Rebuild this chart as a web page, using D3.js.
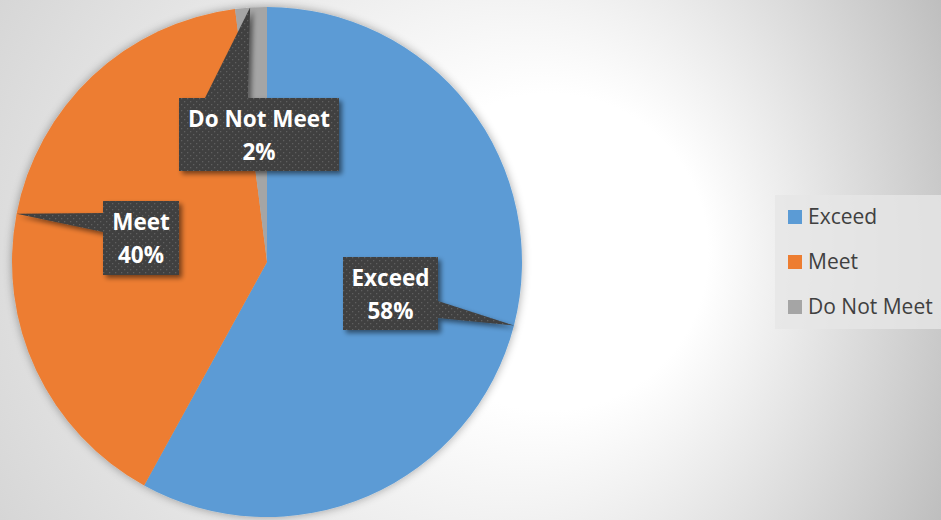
<!DOCTYPE html>
<html>
<head>
<meta charset="utf-8">
<script src="https://cdn.jsdelivr.net/npm/d3@7"></script>
<style>
  html, body { margin: 0; padding: 0; background: #fff; }
  svg { display: block; }
</style>
</head>
<body>
<div class="chart"></div>
<script>
var svgWidth = 941;
var svgHeight = 520;

// data
var categories = ["Exceed", "Meet", "Do Not Meet"];
var values = [58, 40, 2];
var colors = ["#5b9bd5", "#ed7d31", "#a5a5a5"];

// pie geometry
var cx = 267, cy = 262, radius = 255;

// callout layout: box offset from pie centre, size, pointer side and base span, tip angle (deg)
var callouts = {
    "Exceed":      { dx: 76,  dy: -5,   w: 95,  h: 73, side: "right", base: [44, 61], tipAngle: 104.4 },
    "Meet":        { dx: -164, dy: -61, w: 76,  h: 74, side: "left",  base: [12, 31], tipAngle: 280.9 },
    "Do Not Meet": { dx: -88, dy: -164, w: 160, h: 73, side: "top",   base: [26, 69], tipAngle: 356.2 }
};

var svg = d3.select(".chart")
    .append("svg")
    .attr("width", svgWidth)
    .attr("height", svgHeight);

var defs = svg.append("defs");

// background gradient
var bg = defs.append("radialGradient")
    .attr("id", "bgGrad")
    .attr("gradientUnits", "userSpaceOnUse")
    .attr("cx", 300).attr("cy", 260).attr("r", 720)
    .attr("fx", 620).attr("fy", 250);
bg.append("stop").attr("offset", 0).attr("stop-color", "#ffffff");
bg.append("stop").attr("offset", 0.22).attr("stop-color", "#ffffff");
bg.append("stop").attr("offset", 1).attr("stop-color", "#b8b8b8");

// dotted pattern for labels
var pat = defs.append("pattern")
    .attr("id", "dots")
    .attr("patternUnits", "userSpaceOnUse")
    .attr("width", 6).attr("height", 6);
pat.append("rect").attr("width", 6).attr("height", 6).attr("fill", "#404040");
pat.append("rect").attr("x", 1).attr("y", 1).attr("width", 1.3).attr("height", 1.3).attr("fill", "#5e5e5e");
pat.append("rect").attr("x", 4).attr("y", 4).attr("width", 1.3).attr("height", 1.3).attr("fill", "#5e5e5e");

// shadows
var pieShadow = defs.append("filter").attr("id", "pieShadow")
    .attr("x", "-10%").attr("y", "-10%").attr("width", "120%").attr("height", "120%");
pieShadow.append("feGaussianBlur").attr("in", "SourceAlpha").attr("stdDeviation", 5).attr("result", "blur");
pieShadow.append("feComponentTransfer").attr("in", "blur").attr("result", "soft")
    .append("feFuncA").attr("type", "linear").attr("slope", 0.35);
var pm = pieShadow.append("feMerge");
pm.append("feMergeNode").attr("in", "soft");
pm.append("feMergeNode").attr("in", "SourceGraphic");

var boxShadow = defs.append("filter").attr("id", "boxShadow")
    .attr("x", "-20%").attr("y", "-20%").attr("width", "150%").attr("height", "150%");
boxShadow.append("feGaussianBlur").attr("in", "SourceAlpha").attr("stdDeviation", 2.5).attr("result", "blur");
boxShadow.append("feOffset").attr("in", "blur").attr("dx", 3).attr("dy", 3).attr("result", "off");
boxShadow.append("feComponentTransfer").attr("in", "off").attr("result", "soft")
    .append("feFuncA").attr("type", "linear").attr("slope", 0.5);
var bm = boxShadow.append("feMerge");
bm.append("feMergeNode").attr("in", "soft");
bm.append("feMergeNode").attr("in", "SourceGraphic");

svg.append("rect")
    .attr("width", svgWidth)
    .attr("height", svgHeight)
    .attr("fill", "url(#bgGrad)");

var dataset = categories.map(function (c, i) {
    return { name: c, value: values[i], color: colors[i] };
});

var pie = d3.pie().sort(null).value(function (d) { return d.value; });
var arc = d3.arc().innerRadius(0).outerRadius(radius);
var arcs = pie(dataset);

// pie slices
var chart = svg.append("g")
    .attr("transform", `translate(${cx},${cy})`);

chart.append("g")
    .attr("filter", "url(#pieShadow)")
    .selectAll("path")
    .data(arcs)
    .enter()
    .append("path")
    .attr("d", arc)
    .attr("fill", function (d) { return d.data.color; });

// callout labels
var total = d3.sum(values);
var labels = chart.selectAll(".callout")
    .data(arcs)
    .enter()
    .append("g")
    .attr("class", "callout");

labels.append("path")
    .attr("filter", "url(#boxShadow)")
    .attr("fill", "url(#dots)")
    .attr("d", function (d) {
        var c = callouts[d.data.name];
        var x0 = c.dx, y0 = c.dy, x1 = c.dx + c.w, y1 = c.dy + c.h;
        var a = c.tipAngle * Math.PI / 180;
        var tx = radius * Math.sin(a), ty = -radius * Math.cos(a);
        var p = d3.path();
        p.moveTo(x0, y0);
        if (c.side === "top") {
            p.lineTo(x0 + c.base[0], y0);
            p.lineTo(tx, ty);
            p.lineTo(x0 + c.base[1], y0);
        }
        p.lineTo(x1, y0);
        if (c.side === "right") {
            p.lineTo(x1, y0 + c.base[0]);
            p.lineTo(tx, ty);
            p.lineTo(x1, y0 + c.base[1]);
        }
        p.lineTo(x1, y1);
        p.lineTo(x0, y1);
        if (c.side === "left") {
            p.lineTo(x0, y0 + c.base[1]);
            p.lineTo(tx, ty);
            p.lineTo(x0, y0 + c.base[0]);
        }
        p.closePath();
        return p.toString();
    });

var labelText = labels.append("text")
    .attr("text-anchor", "middle")
    .attr("fill", "#ffffff")
    .attr("font-family", "'Open Sans', sans-serif")
    .attr("font-weight", "bold")
    .attr("font-size", "22.5px");

labelText.append("tspan")
    .attr("x", function (d) { var c = callouts[d.data.name]; return c.dx + c.w / 2; })
    .attr("y", function (d) { return callouts[d.data.name].dy + 29; })
    .text(function (d) { return d.data.name; });

labelText.append("tspan")
    .attr("x", function (d) { var c = callouts[d.data.name]; return c.dx + c.w / 2; })
    .attr("y", function (d) { return callouts[d.data.name].dy + 62; })
    .text(function (d) { return Math.round(d.data.value / total * 100) + "%"; });

// legend
var legend = svg.append("g")
    .attr("transform", "translate(775,195)");

legend.append("rect")
    .attr("width", 170)
    .attr("height", 134)
    .attr("fill", "#e6e6e6")
    .attr("fill-opacity", 0.8);

var legendItem = legend.selectAll(".legend-item")
    .data(dataset)
    .enter()
    .append("g")
    .attr("class", "legend-item")
    .attr("transform", function (d, i) { return `translate(13,${15 + i * 45})`; });

legendItem.append("rect")
    .attr("width", 14)
    .attr("height", 14)
    .attr("fill", function (d) { return d.color; });

legendItem.append("text")
    .attr("x", 20)
    .attr("y", 14)
    .attr("fill", "#404040")
    .attr("font-family", "'Open Sans', sans-serif")
    .attr("font-size", "21px")
    .text(function (d) { return d.name; });
</script>
</body>
</html>
